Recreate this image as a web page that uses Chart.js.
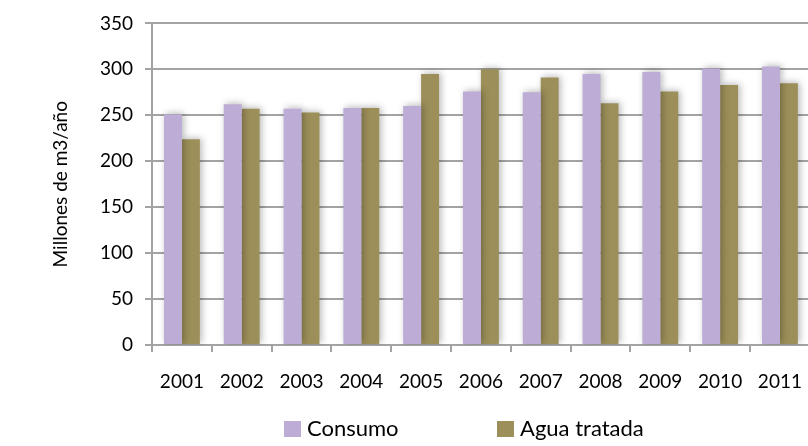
<!DOCTYPE html>
<html>
<head>
<meta charset="utf-8">
<script src="https://cdn.jsdelivr.net/npm/chart.js@4/dist/chart.umd.min.js"></script>
<style>
  html, body { margin: 0; padding: 0; background: #fff; overflow: hidden; width: 808px; height: 446px; }
  canvas { display: block; }
</style>
</head>
<body>
<canvas id="c" width="820" height="446" style="width:820px;height:446px"></canvas>
<script>
const years = ['2001','2002','2003','2004','2005','2006','2007','2008','2009','2010','2011'];
const consumo = [251, 262, 257, 258, 260, 276, 275, 295, 297, 301, 303];
const aguaTratada = [224, 257, 253, 258, 295, 300, 291, 263, 276, 283, 285];
const seriesNames = ['Consumo', 'Agua tratada'];
const yTitle = 'Millones de m3/año';

const FONT = 'Lato, "Liberation Sans", sans-serif';
const GRID = '#a3a3a3';

const shadowPlugin = {
  id: 'barShadow',
  beforeDatasetsDraw(chart) {
    const ctx = chart.ctx;
    ctx.save();
    ctx.shadowColor = 'rgba(0,0,0,0.28)';
    ctx.shadowBlur = 7;
    ctx.shadowOffsetX = 2;
    ctx.shadowOffsetY = -1;
  },
  afterDatasetsDraw(chart) {
    chart.ctx.restore();
  }
};

const legendPlugin = {
  id: 'customLegend',
  afterDraw(chart) {
    const ctx = chart.ctx;
    const starts = [284, 497];
    const cy = 428;
    ctx.save();
    ctx.font = '22px ' + FONT;
    ctx.textBaseline = 'middle';
    ctx.textAlign = 'left';
    chart.data.datasets.forEach((ds, i) => {
      const x = starts[i];
      ctx.fillStyle = ds.backgroundColor;
      ctx.fillRect(x, cy - 7, 17, 16);
      ctx.fillStyle = '#000';
      ctx.fillText(ds.label, x + 23, cy + 1);
    });
    ctx.restore();
  }
};

new Chart(document.getElementById('c'), {
  type: 'bar',
  data: {
    labels: years,
    datasets: [
      { label: seriesNames[0], data: consumo, backgroundColor: '#bdacd5', borderWidth: 0 },
      { label: seriesNames[1], data: aguaTratada, backgroundColor: '#9c8f59', borderWidth: 0 }
    ]
  },
  options: {
    responsive: false,
    animation: false,
    devicePixelRatio: 1,
    layout: { padding: { left: 45, right: 1, top: 19, bottom: 0 } },
    datasets: { bar: { categoryPercentage: 0.6, barPercentage: 1.0 } },
    plugins: {
      legend: { display: false },
      tooltip: { enabled: false }
    },
    scales: {
      x: {
        offset: true,
        grid: { offset: true, drawOnChartArea: false, drawTicks: true, tickLength: 7, color: GRID, lineWidth: 2 },
        border: { display: true, color: GRID, width: 2 },
        ticks: { color: '#000', font: { family: FONT, size: 19 }, padding: 18, maxRotation: 0, autoSkip: false },
        afterFit(scale) { scale.height = 101; }
      },
      y: {
        min: 0,
        max: 350,
        ticks: { stepSize: 50, color: '#000', font: { family: FONT, size: 19 }, padding: 12 },
        grid: { color: GRID, lineWidth: 2, tickLength: 7, drawTicks: true },
        border: { display: true, color: GRID, width: 2 },
        title: { display: true, text: yTitle, color: '#000', font: { family: FONT, size: 19 }, padding: { top: 4, bottom: 4 } },
        afterFit(scale) { scale.width = 107; }
      }
    }
  },
  plugins: [shadowPlugin, legendPlugin]
});
</script>
</body>
</html>
